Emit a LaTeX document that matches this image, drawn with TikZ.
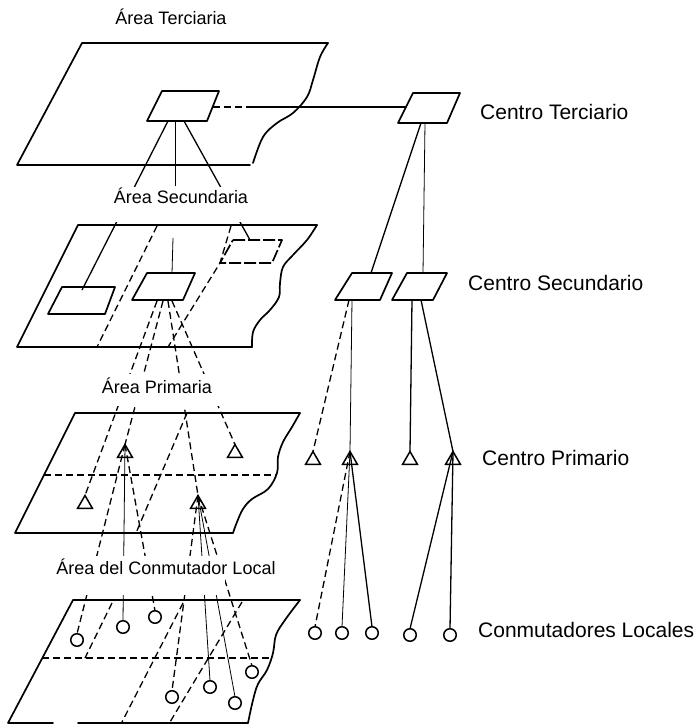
\documentclass[tikz,border=0pt]{standalone}
\usepackage{fontspec}
\setmainfont{Liberation Sans}
\usetikzlibrary{shapes.geometric}
\begin{document}
\begin{tikzpicture}[x=1pt,y=-1pt,
  layer/.style={line width=1.7pt, line join=round, line cap=round},
  box/.style={line width=1.7pt, line join=round},
  conn/.style={line width=1.3pt},
  thinc/.style={line width=0.8pt},
  dsh/.style={dash pattern=on 7pt off 4pt},
  tri/.style={draw, regular polygon, regular polygon sides=3, minimum size=17pt, inner sep=0pt, outer sep=0pt, line width=1.5pt},
  loc/.style={draw, fill=white, circle, minimum size=12.5pt, inner sep=0pt, outer sep=0pt, line width=1.5pt},
  lbl/.style={font=\fontsize{18}{20}\selectfont, inner sep=0pt, anchor=base},
  rlbl/.style={font=\fontsize{21}{24}\selectfont, inner sep=0pt, anchor=base west},
]
\useasboundingbox (0,0) rectangle (700,727);

% ---------- Layer 1 (tertiary area)
\draw[layer] (250,165) -- (17,165) -- (82,43) -- (328,43);
\draw[layer] plot[smooth, tension=0.6] coordinates {(328,43) (320,57) (313,80) (307,97) (293,113) (277,123) (263,137) (253,163)};
\draw[box] (162,91) -- (219,91) -- (207,121) -- (147,121) -- cycle;
\coordinate (tA) at (168,121);
\coordinate (tB) at (175,121);
\coordinate (tC) at (184,121);
\coordinate (tR) at (213,107);
\coordinate (tRx) at (247,107);

% ---------- Layer 2 (secondary areas)
\draw[layer] (252,347) -- (17,347) -- (78,225) -- (317,225);
\draw[layer] plot[smooth, tension=0.6] coordinates {(317,225) (307,240) (293,255) (283,267) (280,283) (279,297) (270,310) (260,320) (253,332) (252,347)};
\draw[box] (62,287) -- (115,287) -- (105,314) -- (48,314) -- cycle;
\draw[box] (147,273) -- (195,273) -- (183,300) -- (132,300) -- cycle;
\draw[box, dash pattern=on 12pt off 3pt] (233,240) -- (282,240) -- (272,263) -- (220,263) -- cycle;
\draw[conn, dsh] (157,226) -- (97,347);
\draw[conn, dsh] (231,226) -- (220,263) -- (168,347);
\coordinate (sL) at (82,290);
\coordinate (sMt) at (172,273);
\coordinate (sMtu) at (173,238);
\coordinate (sR) at (250,240);
\coordinate (m1) at (157,301);
\coordinate (m2) at (163,301);
\coordinate (m3) at (168,301);
\coordinate (m4) at (172,301);

% ---------- Layer 3 (primary areas)
\draw[layer] (233,533) -- (15,533) -- (75,413) -- (300,413);
\draw[layer] plot[smooth, tension=0.6] coordinates {(300,413) (292,427) (283,442) (278,457) (277,473) (268,489) (252,499) (243,509) (237,522) (233,533)};
\draw[conn, dsh] (44,475) -- (277,475);
\draw[conn, dsh] (187,413) -- (136,533);
\node[tri] (p1) at (85,504) {};
\node[tri] (p2) at (125,453) {};
\node[tri] (p3) at (198,504) {};
\node[tri] (p4) at (235,453) {};

% ---------- Layer 4 (local exchange areas)
\draw[layer] (53,723) -- (8,723) -- (73,600) -- (300,600);
\draw[layer] (78,723) -- (248,723);
\draw[layer] plot[smooth, tension=0.6] coordinates {(300,600) (285,620) (276,635) (273,653) (267,670) (258,684) (253,700) (248,723)};
\draw[conn, dsh] (42,658) -- (273,658);
\draw[conn, dsh] (112,603) -- (85,658);
\draw[conn, dsh] (183,603) -- (122,722);
\draw[conn, dsh] (242,602) -- (170,722);

% ---------- Right hierarchy
\draw[box] (413,93) -- (460,93) -- (447,123) -- (398,123) -- cycle;
\coordinate (ctL) at (406,107);
\coordinate (ctB1) at (421,123);
\coordinate (ctB2) at (425,123);
\draw[box] (352,273) -- (392,273) -- (380,300) -- (335,300) -- cycle;
\draw[box] (407,273) -- (447,273) -- (433,300) -- (392,300) -- cycle;
\coordinate (saT) at (371,273);
\coordinate (sbT) at (423,273);
\coordinate (saB1) at (349,300);
\coordinate (saB2) at (352,300);
\coordinate (sbB1) at (412,300);
\coordinate (sbB2) at (421,300);
\node[tri] (r1) at (313,460) {};
\node[tri] (r2) at (350,460) {};
\node[tri] (r3) at (410,460) {};
\node[tri] (r4) at (453,460) {};

% ---------- connectors (tertiary)
\draw[conn, dsh] (tR) -- (tRx);
\draw[conn] (tRx) -- (ctL);
\draw[conn] (tA) -- (sL);
\draw[thinc] (tB) -- (175,186);
\draw[thinc] (sMtu) -- (sMt);
\draw[conn] (tC) -- (sR);
\draw[conn] (ctB1) -- (saT);
\draw[thinc] (ctB2) -- (sbT);

% ---------- connectors (secondary -> primary)
\draw[conn, dsh] (m1) -- (p1.north);
\draw[conn, dsh] (m2) -- (p2.north);
\draw[conn, dsh] (m3) -- (p3.north);
\draw[conn, dsh] (m4) -- (p4.north);
\draw[conn, dsh] (saB1) -- (r1.north);
\draw[thinc] (saB2) -- (r2.north);
\draw[conn] (sbB1) -- (r3.north);
\draw[conn] (sbB2) -- (r4.north);

% ---------- local exchanges
\node[loc] (l1) at (77,640) {};
\node[loc] (l2) at (123,627) {};
\node[loc] (l3) at (155,617) {};
\node[loc] (l4) at (172,697) {};
\node[loc] (l5) at (210,687) {};
\node[loc] (l6) at (235,703) {};
\node[loc] (l7) at (252,672) {};
\node[loc] (c1) at (315,633) {};
\node[loc] (c2) at (342,633) {};
\node[loc] (c3) at (372,633) {};
\node[loc] (c4) at (410,635) {};
\node[loc] (c5) at (450,635) {};

\draw[conn, dsh] (p2.north) -- (l1.north);
\draw[thinc] (p2.north) -- (l2.north);
\draw[conn, dsh] (p2.north) -- (l3.north);
\draw[conn, dsh] (p3.north) -- (l4.north);
\draw[thinc] (p3.north) -- (l5.north);
\draw[thinc] (p3.north) -- (l6.north);
\draw[conn, dsh] (p3.north) -- (l7.north);
\draw[conn, dsh] (r2.north) -- (c1.north);
\draw[thinc] (r2.north) -- (c2.north);
\draw[conn] (r2.north) -- (c3.north);
\draw[conn] (r4.north) -- (c4.north);
\draw[conn] (r4.north) -- (c5.north);

% ---------- hidden parts behind the area labels
\fill[white] (100,187) rectangle (265,222);
\fill[white] (100,374) rectangle (240,406);
\fill[white] (84,556) rectangle (225,595);

% ---------- labels
\node[lbl] (la1) at (171,25) {Área Terciaria};
\node[lbl] (la2) at (181,204) {Área Secundaria};
\node[lbl] (la3) at (157,393) {Área Primaria};
\node[lbl] (la4) at (166,574) {Área del Conmutador Local};
\node[rlbl] (lr1) at (480,120) {Centro Terciario};
\node[rlbl] (lr2) at (468,290) {Centro Secundario};
\node[rlbl] (lr3) at (482,465) {Centro Primario};
\node[rlbl] (lr4) at (478,637) {Conmutadores Locales};
\end{tikzpicture}
\end{document}
